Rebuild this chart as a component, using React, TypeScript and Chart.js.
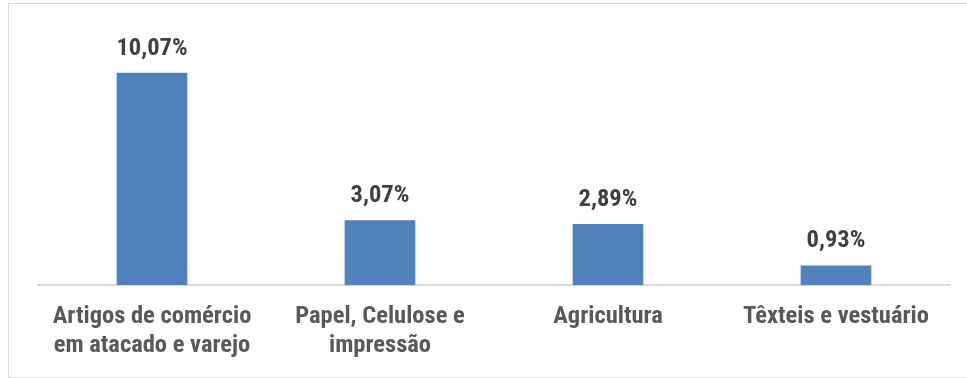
import React, { useEffect, useRef } from "react";
import { Chart, registerables } from "chart.js";

Chart.register(...registerables);

const categories: (string | string[])[] = [
  ["Artigos de comércio", "em atacado e varejo"],
  ["Papel, Celulose e", "impressão"],
  "Agricultura",
  "Têxteis e vestuário",
];
const values: number[] = [10.07, 3.07, 2.89, 0.93];
const valueLabels: string[] = ["10,07%", "3,07%", "2,89%", "0,93%"];

const FONT = "'Roboto Condensed', 'Liberation Sans', sans-serif";

const dataLabelPlugin = {
  id: "dataLabels",
  afterDatasetsDraw(chart: any) {
    const ctx = chart.ctx;
    const meta = chart.getDatasetMeta(0);
    ctx.save();
    ctx.font = `bold 24.5px ${FONT}`;
    ctx.fillStyle = "#404040";
    ctx.textAlign = "center";
    ctx.textBaseline = "alphabetic";
    meta.data.forEach((bar: any, i: number) => {
      ctx.fillText(valueLabels[i], bar.x, bar.y - 18);
    });
    ctx.restore();
  },
};

export default function App() {
  const ref = useRef<HTMLCanvasElement>(null);
  useEffect(() => {
    if (!ref.current) return;
    const chart = new Chart(ref.current, {
      type: "bar",
      data: {
        labels: categories,
        datasets: [
          {
            data: values,
            backgroundColor: "#4F81BD",
            borderWidth: 0,
            barPercentage: 0.31,
            categoryPercentage: 1,
          },
        ],
      },
      options: {
        animation: false,
        responsive: false,
        maintainAspectRatio: false,
        layout: { padding: { left: 38, right: 17, top: 32, bottom: 0 } },
        plugins: { legend: { display: false }, tooltip: { enabled: false } },
        scales: {
          x: {
            grid: { display: false, drawTicks: false },
            border: { display: true, color: "#D9D9D9", width: 2 },
            ticks: {
              color: "#595959",
              font: { family: FONT, size: 24.5, weight: "bold", lineHeight: 1.2 },
              padding: 17,
              maxRotation: 0,
              autoSkip: false,
            },
            afterFit: (scale: any) => {
              scale.height = 93;
            },
          },
          y: {
            display: false,
            min: 0,
            max: 12,
          },
        },
      },
      plugins: [dataLabelPlugin],
    });
    return () => chart.destroy();
  }, []);
  return (
    <div style={{ position: "absolute", left: 0, top: 0, width: 967, height: 378, background: "#fff" }}>
      <canvas ref={ref} width={967} height={378} style={{ position: "absolute", left: 0, top: 0 }} />
      <div
        style={{
          position: "absolute",
          left: 8,
          top: 3,
          width: 980,
          height: 373,
          border: "1px solid #D9D9D9",
          pointerEvents: "none",
        }}
      />
    </div>
  );
}
